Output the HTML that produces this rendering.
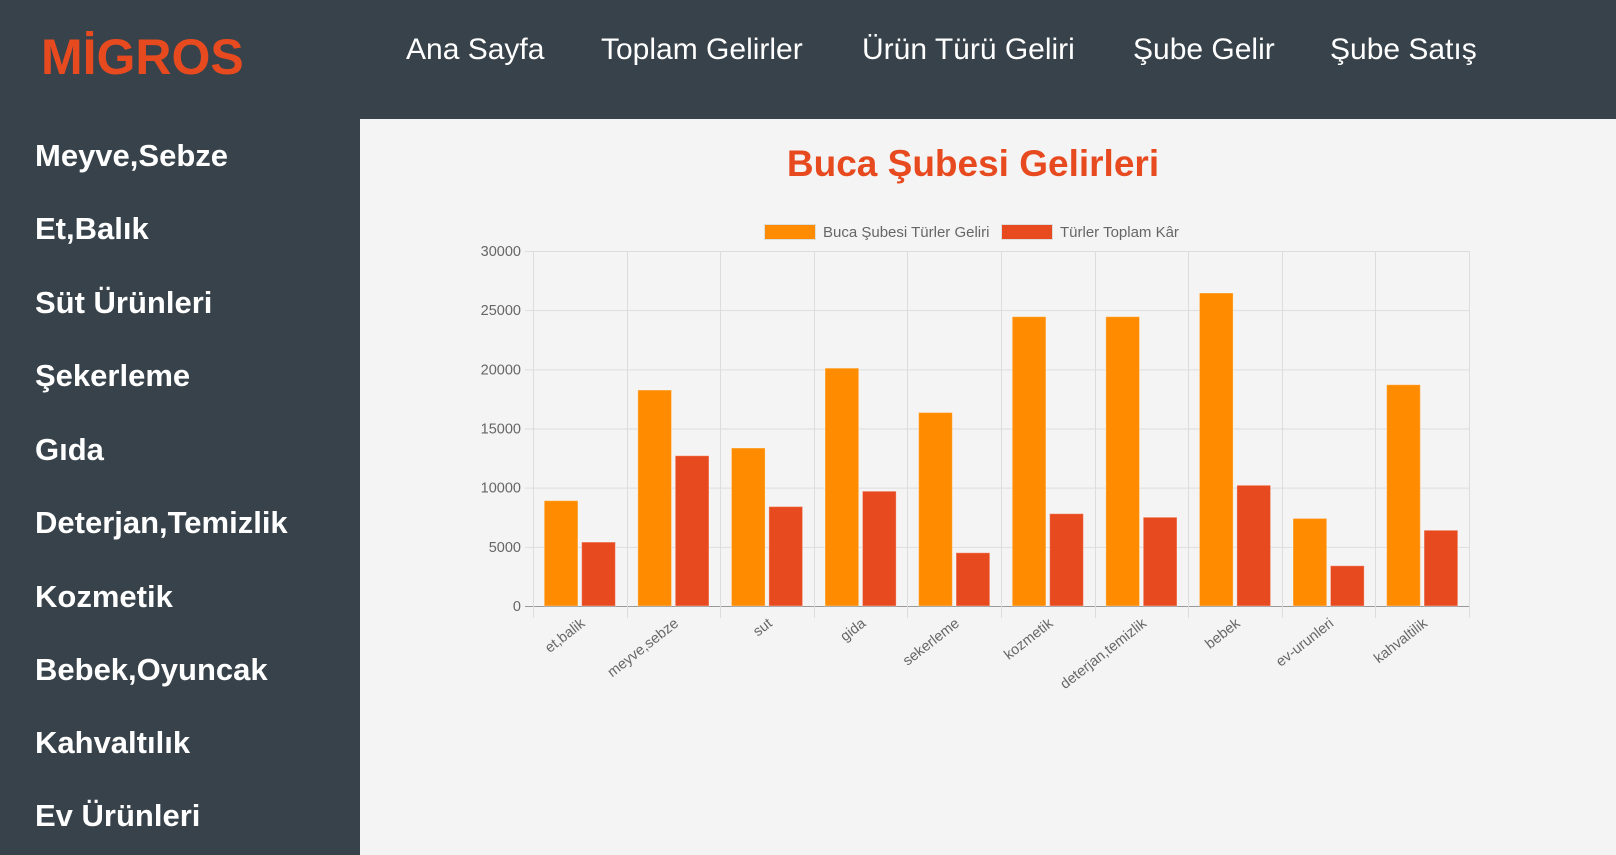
<!DOCTYPE html>
<html><head><meta charset="utf-8">
<style>
*{margin:0;padding:0;box-sizing:border-box}
body{width:1616px;height:855px;overflow:hidden;background:#37424a;font-family:"Liberation Sans",sans-serif;position:relative}
.logo{position:absolute;left:41px;top:27px;font-size:50px;font-weight:bold;color:#e84a1f;line-height:60px}
.nav{position:absolute;top:35px;font-size:30px;color:#fff;line-height:30px;white-space:nowrap}
.side{position:absolute;left:35px;font-size:31px;font-weight:bold;color:#fff;line-height:30px;white-space:nowrap}
.panel{position:absolute;left:360px;top:119px;width:1256px;height:736px;background:#f4f4f4}
.title{position:absolute;left:360px;width:1226px;top:143px;text-align:center;font-size:37px;font-weight:bold;color:#e84a1f}
svg{position:absolute;left:0;top:0}
</style></head><body>
<div class="logo">MİGROS</div>
<div class="nav" style="left:406px">Ana Sayfa</div>
<div class="nav" style="left:601px">Toplam Gelirler</div>
<div class="nav" style="left:862px">Ürün Türü Geliri</div>
<div class="nav" style="left:1133px">Şube Gelir</div>
<div class="nav" style="left:1330px">Şube Satış</div>
<div class="side" style="top:141px">Meyve,Sebze</div>
<div class="side" style="top:214px">Et,Balık</div>
<div class="side" style="top:288px">Süt Ürünleri</div>
<div class="side" style="top:361px">Şekerleme</div>
<div class="side" style="top:435px">Gıda</div>
<div class="side" style="top:508px">Deterjan,Temizlik</div>
<div class="side" style="top:582px">Kozmetik</div>
<div class="side" style="top:655px">Bebek,Oyuncak</div>
<div class="side" style="top:728px">Kahvaltılık</div>
<div class="side" style="top:801px">Ev Ürünleri</div>
<div class="panel"></div>
<div class="title">Buca Şubesi Gelirleri</div>
<svg id="chart" width="1616" height="855"></svg>
<script>
const categories=["et,balik","meyve,sebze","sut","gida","sekerleme","kozmetik","deterjan,temizlik","bebek","ev-urunleri","kahvaltilik"];
const revenue=[8900,18250,13350,20100,16350,24450,24450,26450,7400,18700];
const profit=[5400,12700,8400,9700,4500,7800,7500,10200,3400,6400];
const yTicks=[0,5000,10000,15000,20000,25000,30000];
const seriesNames=["Buca Şubesi Türler Geliri","Türler Toplam Kâr"];
const colors=["#ff8c00","#e84a1f"];
const svg=document.getElementById('chart');
const NS="http://www.w3.org/2000/svg";
const X0=533,X1=1469,Y0=606,Y1=251,YMAX=30000;
const cw=(X1-X0)/categories.length;
const y=v=>Y0-(v/YMAX)*(Y0-Y1);
function mk(t,a){const e=document.createElementNS(NS,t);for(const k in a)e.setAttribute(k,a[k]);svg.appendChild(e);return e;}
yTicks.forEach(t=>{
  const l=mk('line',{x1:X0-8,x2:X1,y1:y(t)+.5,y2:y(t)+.5,stroke:t===0?'#999':'#ddd','stroke-width':1});
  
  
  const tx=mk('text',{x:X0-12,y:y(t)+5,'text-anchor':'end','font-size':14.5,fill:'#666','font-family':'Liberation Sans'});
  tx.textContent=t;
  
  
});
for(let i=0;i<=categories.length;i++){
  const xx=Math.round(X0+i*cw)+.5;
  const l=mk('line',{x1:xx,x2:xx,y1:Y1,y2:Y0+12,stroke:'#ddd','stroke-width':1});
  
  
}
const series=[revenue,profit];
categories.forEach((c,i)=>{
  const cx=X0+i*cw;
  const grp=cw*0.8, bw=grp/2*0.9;
  series.forEach((s,j)=>{
    const bx=cx+cw*0.1+j*grp/2+(grp/2-bw)/2;
    const r=mk('rect',{x:bx,y:y(s[i]),width:bw,height:Y0-y(s[i]),fill:colors[j],stroke:'rgba(255,255,255,0.35)','stroke-width':1});
    
    
  });
  const tx=mk('text',{transform:`translate(${cx+cw/2+6},${Y0+19}) rotate(-38)`,'text-anchor':'end','font-size':14.5,fill:'#666','font-family':'Liberation Sans'});
  tx.textContent=c;
  
  
});
const legX=[764,1001];
seriesNames.forEach((n,j)=>{
  const r=mk('rect',{x:legX[j]+.5,y:224.5,width:51,height:15,fill:colors[j],stroke:'#ddd','stroke-width':1});
  
  
  const t=mk('text',{x:legX[j]+59,y:237,'font-size':15,fill:'#666','font-family':'Liberation Sans'});
  t.textContent=n;
  
  
});
</script>
</body></html>
